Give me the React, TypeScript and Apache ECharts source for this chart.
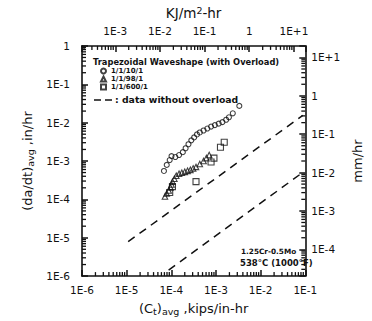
import React, { useEffect, useRef } from 'react';
import * as echarts from 'echarts';

// ---- data ----
// (Ct)avg [kips/in-hr], (da/dt)avg [in/hr]
const circles10: number[][] = [
  [6.84e-5, 5.5e-4], [7.9e-5, 7.9e-4], [9.2e-5, 1.06e-3], [1.01e-4, 1.34e-3],
  [1.23e-4, 1.27e-3], [1.49e-4, 1.43e-3], [1.81e-4, 1.7e-3], [2.09e-4, 2.15e-3],
  [2.42e-4, 2.73e-3], [2.8e-4, 3.45e-3], [3.24e-4, 4.12e-3], [3.75e-4, 4.92e-3],
  [4.34e-4, 5.54e-3], [5.27e-4, 6.24e-3], [6.4e-4, 7.02e-3], [7.76e-4, 7.89e-3],
  [9.44e-4, 8.63e-3], [1.15e-3, 9.42e-3], [1.39e-3, 1.03e-2], [1.69e-3, 1.19e-2],
  [1.95e-3, 1.38e-2], [2.38e-3, 1.75e-2], [3.33e-3, 2.73e-2],
];
const triangles98: number[][] = [
  [7.2e-5, 1.19e-4], [7.9e-5, 1.43e-4], [8.73e-5, 1.7e-4], [9.61e-5, 2.03e-4],
  [1.01e-4, 2.43e-4], [1.06e-4, 2.9e-4], [1.17e-4, 3.45e-4], [1.29e-4, 4.12e-4],
  [1.49e-4, 4.64e-4], [1.72e-4, 4.92e-4], [2.0e-4, 5.22e-4], [2.31e-4, 5.54e-4],
  [2.67e-4, 5.88e-4], [3.08e-4, 6.43e-4], [3.57e-4, 7.02e-4], [4.34e-4, 8.37e-4],
  [5.27e-4, 1.0e-3], [6.1e-4, 1.19e-3], [7.05e-4, 1.43e-3],
];
const squares600: number[][] = [
  [9.2e-5, 1.51e-4], [1.06e-4, 2.15e-4], [3.57e-4, 2.9e-4], [7.76e-4, 9.42e-4],
  [9.0e-4, 1.19e-3], [1.26e-3, 2.29e-3], [1.53e-3, 3.07e-3],
];
const upperNoOverload: number[][] = [[1.08e-5, 7.9e-6], [8.8e-2, 1.55e-2]];
const lowerNoOverload: number[][] = [[8.7e-5, 1.43e-6], [9.1e-2, 5.2e-4]];

const seriesNames = ['1/1/10/1', '1/1/98/1', '1/1/600/1'];

// axis extents
const xMin = 1e-6, xMax = 1e-1;
const yMin = 1e-6, yMax = 1;
const topMin = 1.8e-4, topMax = 18; // KJ/m^2-hr
const rightMin = 2e-5, rightMax = 20; // mm/hr

const FONT = '"DejaVu Sans", sans-serif';
const INK = '#111111';

function expLabel(v: number): string {
  const l = Math.log10(v);
  const r = Math.round(l);
  if (Math.abs(l - r) > 1e-6) return '';
  if (r === 0) return '1';
  return r > 0 ? '1E+' + r : '1E-' + -r;
}

function minorValues(d0: number, d1: number, lo: number, hi: number): number[] {
  const out: number[] = [];
  for (let d = d0; d <= d1; d++) {
    for (let m = 2; m <= 9; m++) {
      const v = m * Math.pow(10, d);
      if (v > lo * 1.0001 && v < hi * 0.9999) out.push(v);
    }
  }
  return out;
}

function tickSeries(data: number[][], xi: number, yi: number, dx: number, dy: number) {
  return {
    type: 'custom',
    xAxisIndex: xi,
    yAxisIndex: yi,
    silent: true,
    clip: false,
    z: 5,
    data,
    renderItem: (_p: any, api: any) => {
      const p = api.coord([api.value(0), api.value(1)]);
      return {
        type: 'line',
        shape: { x1: p[0], y1: p[1], x2: p[0] + dx, y2: p[1] + dy },
        style: { stroke: INK, lineWidth: 1.3 },
      };
    },
  };
}

export default function App() {
  const ref = useRef<HTMLDivElement>(null);
  useEffect(() => {
    document.body.style.margin = '0';
    const chart = echarts.init(ref.current!, undefined, { renderer: 'svg' });
    const axisLine = { show: true, lineStyle: { color: INK, width: 1.6 } };
    const labelStyle = { color: INK, fontSize: 10.5, fontFamily: FONT, formatter: expLabel };
    const tick = { show: true, inside: true, length: 6, lineStyle: { color: INK, width: 1.5 } };
    const scatterStyle = { color: 'rgba(0,0,0,0)', borderColor: INK, borderWidth: 1.1 };
    const dashed = { color: INK, width: 1.5, type: [8, 6] as any };
    const subRich = { fontSize: 9.5, fontFamily: FONT, color: INK, verticalAlign: 'bottom', lineHeight: 16, padding: [6, 0, 0, 0] };

    chart.setOption({
      animation: false,
      backgroundColor: '#ffffff',
      grid: { left: 82, top: 44, right: 53, bottom: 43, containLabel: false },
      xAxis: [
        {
          type: 'log', min: xMin, max: xMax, position: 'bottom',
          axisLine, axisTick: tick, splitLine: { show: false },
          axisLabel: { ...labelStyle, margin: 8 },
          name: '(C{sub|t}){sub|avg} ,kips/in-hr', nameLocation: 'middle', nameGap: 20,
          nameTextStyle: { color: INK, fontSize: 13, fontFamily: FONT, lineHeight: 16, rich: { sub: subRich } },
        },
        {
          type: 'log', min: topMin, max: topMax, position: 'top',
          axisLine, axisTick: tick, splitLine: { show: false },
          axisLabel: { ...labelStyle, margin: 9 },
          name: 'KJ/m{sup|2}-hr', nameLocation: 'middle', nameGap: 23,
          nameTextStyle: {
            color: INK, fontSize: 13.5, fontFamily: FONT, lineHeight: 16,
            rich: { sup: { fontSize: 9.5, fontFamily: FONT, color: INK, verticalAlign: 'top', lineHeight: 16, padding: [0, 0, 6, 0] } },
          },
        },
      ],
      yAxis: [
        {
          type: 'log', min: yMin, max: yMax, position: 'left',
          axisLine, axisTick: tick, splitLine: { show: false },
          axisLabel: { ...labelStyle, margin: 12 },
          name: '(da/dt){sub|avg} ,in/hr', nameLocation: 'middle', nameGap: 47, nameRotate: 90,
          nameTextStyle: { color: INK, fontSize: 13, fontFamily: FONT, lineHeight: 16, rich: { sub: subRich } },
        },
        {
          type: 'log', min: rightMin, max: rightMax, position: 'right',
          axisLine, axisTick: tick, splitLine: { show: false },
          axisLabel: { ...labelStyle, margin: 6 },
          name: 'mm/hr', nameLocation: 'middle', nameGap: 40, nameRotate: 90,
          nameTextStyle: { color: INK, fontSize: 13, fontFamily: FONT },
        },
      ],
      legend: {
        data: seriesNames,
        orient: 'vertical',
        left: 100, top: 67,
        itemWidth: 5, itemHeight: 5, itemGap: 0,
        padding: 0,
        textStyle: { color: INK, fontSize: 7, fontWeight: 'bold', fontFamily: FONT, lineHeight: 8 },
      },
      graphic: [
        {
          type: 'text', x: 93, y: 62, silent: true,
          style: { text: 'Trapezoidal Waveshape (with Overload)', font: 'bold 8.3px "DejaVu Sans"', fill: INK, verticalAlign: 'middle' },
        },
        { type: 'line', silent: true, shape: { x1: 94, y1: 100, x2: 101, y2: 100 }, style: { stroke: INK, lineWidth: 1.5 } },
        { type: 'line', silent: true, shape: { x1: 105, y1: 100, x2: 112, y2: 100 }, style: { stroke: INK, lineWidth: 1.5 } },
        {
          type: 'text', x: 115, y: 99.5, silent: true,
          style: { text: ': data without overload', font: 'bold 9.3px "DejaVu Sans"', fill: INK, verticalAlign: 'middle' },
        },
        {
          type: 'text', x: 241, y: 251, silent: true,
          style: { text: '1.25Cr-0.5Mo', font: 'bold 7.3px "DejaVu Sans"', fill: INK, verticalAlign: 'middle' },
        },
        {
          type: 'text', x: 240, y: 263, silent: true,
          style: { text: '538°C (1000°F)', font: 'bold 8.5px "DejaVu Sans"', fill: INK, verticalAlign: 'middle' },
        },
      ],
      series: [
        { name: seriesNames[0], type: 'scatter', symbol: 'circle', symbolSize: 5, data: circles10, itemStyle: scatterStyle },
        { name: seriesNames[1], type: 'scatter', symbol: 'triangle', symbolSize: 5.5, data: triangles98, itemStyle: scatterStyle },
        { name: seriesNames[2], type: 'scatter', symbol: 'rect', symbolSize: 6, data: squares600, itemStyle: scatterStyle },
        { name: 'no-overload-upper', type: 'line', symbol: 'none', data: upperNoOverload, lineStyle: dashed },
        { name: 'no-overload-lower', type: 'line', symbol: 'none', data: lowerNoOverload, lineStyle: dashed },
        tickSeries(minorValues(-6, -2, xMin, xMax).map((v) => [v, yMin]), 0, 0, 0, -4),
        tickSeries(minorValues(-6, -1, yMin, yMax).map((v) => [xMin, v]), 0, 0, 4, 0),
        tickSeries(minorValues(-4, 1, topMin, topMax).map((v) => [v, yMax]), 1, 0, 0, 4),
        tickSeries(minorValues(-5, 1, rightMin, rightMax).map((v) => [xMax, v]), 0, 1, -4, 0),
      ],
    });
    return () => chart.dispose();
  }, []);
  return <div ref={ref} style={{ position: 'absolute', left: 0, top: 0, width: 372, height: 321, background: '#fff' }} />;
}
